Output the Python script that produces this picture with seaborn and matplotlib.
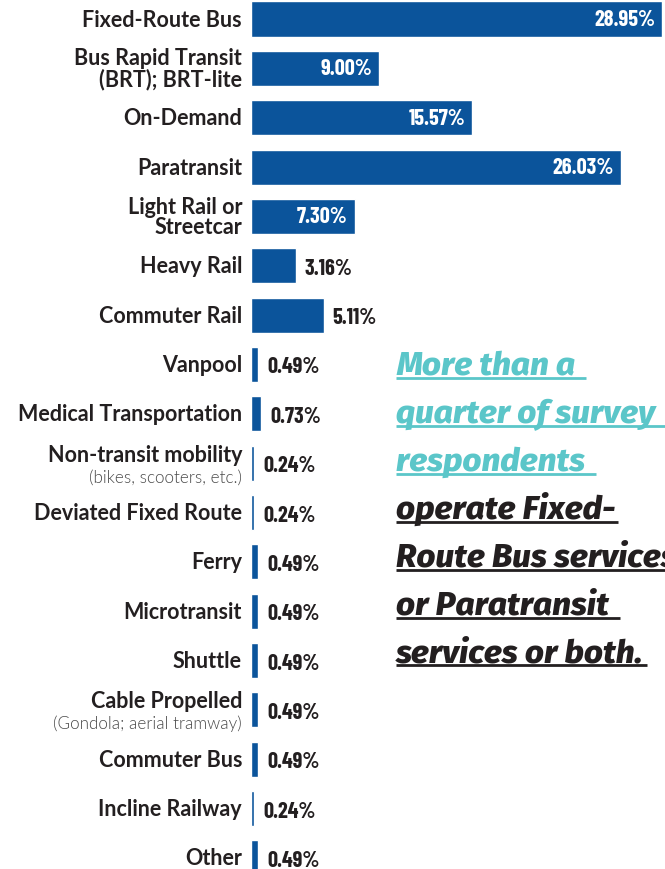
import matplotlib
matplotlib.use("Agg")
import matplotlib.pyplot as plt
import seaborn as sns
import pandas as pd
from matplotlib.lines import Line2D

# ---- data -------------------------------------------------------------
categories = [
    "Fixed-Route Bus", "Bus Rapid Transit\n(BRT); BRT-lite", "On-Demand",
    "Paratransit", "Light Rail or\nStreetcar", "Heavy Rail", "Commuter Rail",
    "Vanpool", "Medical Transportation", "Non-transit mobility",
    "Deviated Fixed Route", "Ferry", "Microtransit", "Shuttle",
    "Cable Propelled", "Commuter Bus", "Incline Railway", "Other",
]
subtitles = {
    "Non-transit mobility": "(bikes, scooters, etc.)",
    "Cable Propelled": "(Gondola; aerial tramway)",
}
shares = [28.95, 9.00, 15.57, 26.03, 7.30, 3.16, 5.11, 0.49, 0.73, 0.24,
          0.24, 0.49, 0.49, 0.49, 0.49, 0.49, 0.24, 0.49]

callout_lines = ["More than a ", "quarter of survey ", "respondents ",
                 "operate Fixed-", "Route Bus services", "or Paratransit ",
                 "services or both."]
callout_highlight = [True, True, True, False, False, False, False]

# ---- style ------------------------------------------------------------
BLUE = "#0b549b"
DARK = "#231f20"
TEAL = "#5bc6c9"

sns.set_style("white")
plt.rcParams["font.family"] = ["Lato", "DejaVu Sans"]

label_family = ["Lato", "DejaVu Sans"]
num_family = ["Barlow Condensed", "Roboto Condensed", "Oswald", "DejaVu Sans"]
callout_family = ["Fira Sans", "Barlow", "Roboto", "DejaVu Sans"]

W, H = 665, 870
fig = plt.figure(figsize=(W / 100, H / 100), dpi=100)
ax = fig.add_axes([251 / W, 0, 1 - 251 / W, 1])

df = pd.DataFrame({"category": categories, "share": shares})
sns.barplot(data=df, y="category", x="share", orient="h", color=BLUE,
            saturation=1, width=0.71, ax=ax)

px_per_unit = (662 - 251) / 28.95
ax.set_xlim(0, (W - 251) / px_per_unit)
ax.set_ylim(17 + 11 / 49.35, -20 / 49.35)
ax.set_xlabel("")
ax.set_ylabel("")
ax.set_xticks([])
ax.set_yticks([])
for s in ax.spines.values():
    s.set_visible(False)

for i, (cat, val) in enumerate(zip(categories, shares)):
    # category labels to the left of the bars
    if cat in subtitles:
        ax.annotate(cat, xy=(0, i), xycoords=("axes fraction", "data"),
                    xytext=(-9, 9), textcoords="offset pixels",
                    ha="right", va="center", fontsize=15.5, weight="bold",
                    family=label_family, color=DARK)
        ax.annotate(subtitles[cat], xy=(0, i),
                    xycoords=("axes fraction", "data"),
                    xytext=(-9, -13), textcoords="offset pixels",
                    ha="right", va="center", fontsize=12.3, weight=300,
                    family=label_family, color="#4a4a4a")
    else:
        ax.annotate(cat, xy=(0, i), xycoords=("axes fraction", "data"),
                    xytext=(-9, 0), textcoords="offset pixels",
                    ha="right", va="center", fontsize=15.5, weight="bold",
                    linespacing=0.95, family=label_family, color=DARK)

    # value labels: inside long bars, outside short ones
    text = f"{val:.2f}%"
    if val > 6:
        ax.annotate(text, xy=(val, i), xytext=(-7, 0),
                    textcoords="offset pixels", ha="right", va="center",
                    fontsize=16, weight="bold", family=num_family,
                    color="white")
    else:
        ax.annotate(text, xy=(val, i), xytext=(9, -2),
                    textcoords="offset pixels", ha="left", va="center",
                    fontsize=16, weight="bold", family=num_family, color=DARK)

# ---- callout text with underlines -------------------------------------
texts = []
for k, (line, hl) in enumerate(zip(callout_lines, callout_highlight)):
    y_base = 375 + 47.9 * k
    t = fig.text(396 / W, 1 - y_base / H, line, ha="left", va="baseline",
                 fontsize=24, weight=800, style="italic",
                 family=callout_family, color=TEAL if hl else DARK)
    texts.append((t, y_base, hl, line.endswith(" ")))

fig.canvas.draw()
renderer = fig.canvas.get_renderer()
for t, y_base, hl, trailing in texts:
    bb = t.get_window_extent(renderer)
    x0 = 396
    x1 = bb.x1 + (4 if trailing else 3)
    yu = 1 - (y_base + 4) / H
    fig.add_artist(Line2D([x0 / W, x1 / W], [yu, yu], transform=fig.transFigure,
                          color=TEAL if hl else DARK, lw=2.0,
                          solid_capstyle="butt"))

fig.savefig("out.png", dpi=100)
